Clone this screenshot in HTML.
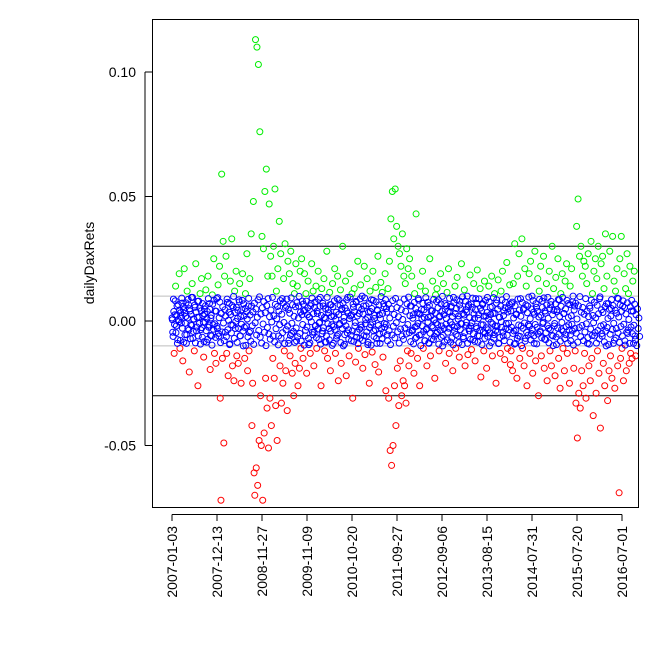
<!DOCTYPE html>
<html><head><meta charset="utf-8"><style>
html,body{margin:0;padding:0;background:#fff}
svg{display:block;font-family:"Liberation Sans",Arial,sans-serif}
</style></head><body>
<svg id="chart" width="672" height="671" viewBox="0 0 672 671" xmlns="http://www.w3.org/2000/svg">
<rect x="0" y="0" width="672" height="671" fill="#fff"/>
<g id="refLines"></g>
<g id="points"></g>
<rect x="152.5" y="19.5" width="486" height="488" fill="none" stroke="#000" stroke-width="1"/>
<g id="yAxis"></g>
<g id="xAxis"></g>
<text x="0" y="0" transform="translate(94,263) rotate(-90)" text-anchor="middle" font-size="14">dailyDaxRets</text>
</svg>
<script>
const retsBp = [
12,-45,88,-130,25,140,-20,60,-75,5,190,-110,33,-8,72,-160,45,210,-55,18,
-90,120,-30,65,-205,40,-15,95,150,-70,8,-120,55,230,-40,15,-260,80,-10,110,
-35,170,-65,22,-145,48,-5,125,-85,38,180,-25,70,-195,12,-60,105,-15,250,-130,
40,-170,90,-30,145,-60,220,-310,-720,590,-150,320,-490,180,-45,260,-130,75,-220,35,
-95,160,-15,330,-180,55,-240,120,-30,200,-140,10,-170,85,150,-60,-250,45,190,-100,
20,-150,110,-20,270,-200,60,-120,170,-40,
350,-420,-250,480,-610,-700,1130,-590,1100,-660,1030,-480,760,-300,-500,340,-720,290,-450,520,-230,610,-350,180,-510,470,
-310,260,-420,180,-150,300,-230,530,-340,120,-480,210,-60,400,-180,270,-330,90,-250,170,
-120,310,-200,60,-360,240,-90,190,-140,280,-50,-210,150,-300,110,-170,230,-80,140,-260,
60,-190,200,-110,250,
80,-150,40,190,-60,110,-210,25,160,-95,15,-130,70,230,-45,120,-180,55,-20,140,
-110,30,200,-75,-5,95,-260,130,-40,60,170,-120,10,-85,280,-150,45,-30,115,-200,
65,-15,150,-90,20,210,-130,35,-60,180,-240,85,-10,125,-170,50,300,-100,15,-55,
160,-220,40,95,-35,-140,190,20,-80,110,-310,55,130,-20,-165,75,-45,240,-110,30,
-70,145,-25,100,-190,60,220,-135,5,-60,170,-95,35,-250,120,-15,85,-125,200,-40,
10,-175,135,-70,45,260,-205,25,-90,155,-30,115,-145,70,-10,190,-280,50,-55,130,
-310,240,-520,410,-580,520,-500,330,-260,530,-420,380,-190,300,-340,270,-160,220,-300,350,-240,180,-260,150,-330,290,-120,210,-180,250,
60,-130,180,-40,25,-210,110,-70,430,-20,-150,90,30,-260,140,-55,10,200,-110,45,
-80,120,-35,-180,75,15,-90,250,-140,40,-20,160,-75,5,-230,105,-50,130,-15,85,
-120,20,190,-65,40,-100,150,-30,70,-170,10,115,-45,210,-130,35,-85,60,-15,-200,
95,-25,140,-110,50,175,-60,20,-145,80,-10,230,-95,30,-70,125,-180,45,-5,100,
-135,65,-40,185,-20,-115,55,-75,150,10,-160,90,-30,205,-85,25,-60,130,-225,40,
70,-15,-120,160,-50,20,-190,95,-35,140,-100,55,-5,180,-140,30,-70,110,-20,-250,
85,-45,165,-90,15,-130,120,-25,200,-60,40,-155,75,-10,235,-110,50,-35,145,-175,
-120,70,-200,150,-40,310,-90,25,-230,180,-60,270,-150,90,-20,330,-110,45,-180,210,
-70,140,-260,60,-15,190,-130,240,-50,100,-210,35,-90,280,-160,55,-25,170,-300,120,
-45,220,-140,80,-10,260,-190,40,-75,150,-240,95,-30,200,-120,65,-180,300,-60,130,
-20,-220,175,-95,45,250,-150,85,-270,110,-35,190,-110,30,-200,160,-55,230,-130,70,
-15,-250,140,-80,210,-40,100,-190,60,-120,
-330,380,-470,490,-290,260,-350,300,-200,180,-260,240,-130,220,-310,150,-90,270,-180,60,
-240,320,-150,110,-380,200,-60,250,-290,170,-120,300,-210,90,-430,230,-50,260,-170,130,
-260,350,-100,180,-320,70,-200,280,-140,50,-230,340,-90,160,-270,120,-30,210,-180,90,
-690,250,-150,340,-110,60,-240,190,-80,130,-200,270,-50,110,-170,220,-130,40,-150,160,
-90,200,-60,-140
];
const calmRetsBp = [
5,-62,38,-14,81,-47,23,-90,66,-3,44,-78,17,92,-29,58,-85,31,-9,73,
-55,12,87,-36,49,-71,26,-18,95,-42,7,64,-88,35,-24,79,-60,15,52,-93,
41,-27,70,-5,-83,28,61,-39,10,-74,90,-16,47,-58,22,-97,68,-33,84,-11,
-66,39,-21,94,-50,13,76,-87,30,-44,57,-8,-79,45,20,-63,88,-35,3,71,
-92,26,-48,62,-17,99,-70,34,-2,55,-86,43,-30,77,-59,18,-13,83,-41,69,
-25,50,-98,37,8,-64,91,-46,24,-81,60,-19,36,-94,72,-7,48,-56,15,85,
-38,97,-65,28,-89,53,-12,78,-45,33,-99,62,-26,90,-52,17,-73,44,-4,95,
-60,21,-84,67,-31,9,58,-96,40,-15,82,-69,27,-47,73,-6,-91,54,-35,88,
-20,46,-77,31,-58,93,-9,65,-42,19,-86,57,-28,74,-63,12,99,-50,36,-81,
25,-14,68,-97,43,-37,80,-24,53,-70,16,-88,61,-3,92,-55,29,-45,76,-18,
-67,40,-32,87,-8,59,-93,22,-51,71,-27,14,-84,48,-60,95,-11,33,-76,66,
-41,18,-98,57,-22,81,-36,7,-69,90,-54,26,-15,63,-87,45,-30,72,-2,-94,
52,-19,85,-48,31,-73,10,96,-57,24,-40,68,-82,37,-6,79,-65,20,-91,55,
-33,89,-16,47,-78,28,-59,93,-11,61,-44,15,-86,70,-27,38,-97,50,-4,83,
-62,23,-35,77,-90,42,-18,64,-53,9,98,-71,30,-46,58,-25,86,-13,35,-80,
67,-39,12,-95,49,-56,82,-21,26,-68,91,-7,54,-43,17,-89,73,-32,45,-60,
6,-74,88,-28,39,-52,69,-14,96,-47,21,-83,60,-36,11,-92,75,-24,50,-65,
33,-10,84,-57,27,-99,46,-19,71,-42,14,-79,94,-31,56,-5,-88,63,-49,20,
-72,41,-26,87,-61,32,-8,78,-45,53,-93,16,-37,69,-20,99,-58,25,-84,47,
-13,62,-76,38,-29,91,-4,55,-68,18,-96,73,-41,30,-54,85,-22,7,-87,64,
-35,49,-11,97,-63,24,-47,80,-18,36,-90,57,-30,13,-74,68,-6,92,-51,28,
-82,45,-23,71,-59,10,89,-38,52,-15,-95,66,-43,19,-70,83,-27,34,-62,8,
77,-48,26,-86,58,-12,94,-55,31,-39,72,-20,47,-91,15,-66,60,-3,85,-44,
22,-79,53,-31,98,-57,36,-9,67,-85,40,-25,76,-50,12,-93,61,-37,28,-70,
88,-16,44,-62,19,-99,74,-29,51,-8,-81,65,-45,33,-57,96,-21,9,-76,48,
-34,82,-60,27,-14,70,-92,39,-52,16,87,-40,23,-68,55,-5,93,-73,31,-47,
64,-19,11,-88,50,-35,79,-57,25,-99,42,-10,69,-64,37,-28,86,-53,18,-81,
59,-6,95,-42,30,-71,48,-23,83,-90,14,-37,66,-55,21,-13,77,-96,44,-30,
72,-49,8,-85,61,-26,98,-63,35,-18,54,-79,27,-44,90,-11,40,-67,17,-93,
51,-32,84,-58,22,-7,75,-46,13,-89,63,-38,29,-72,97,-20,45,-61,34,-15,
-84,58,-41,70,-26,10,-95,47,-53,20,86,-34,62,-9,-77,43,-68,31,92,-48,
16,-86,65,-22,39,-60,81,-13,54,-97,28,-45,73,-36,6,-90,57,-24,83,-51,
40,-17,68,-75,25,-99,49,-30,12,-62
];
const dayStride = 4;
const calmDayOffset = 2;
const yTicks = [-0.05, 0.00, 0.05, 0.10];
const yTickLabels = ["-0.05","0.00","0.05","0.10"];
const xTickDays = [1,251,501,751,1001,1251,1501,1751,2001,2251,2501];
const xTickLabels = ["2007-01-03","2007-12-13","2008-11-27","2009-11-09","2010-10-20","2011-09-27","2012-09-06","2013-08-15","2014-07-31","2015-07-20","2016-07-01"];
const blackLines = [0.03,-0.03];
const greyLines = [0.01,-0.01];

const NS="http://www.w3.org/2000/svg";
function X(day){return 172 + (day-1)*0.18;}
function Y(v){return 321 - v*2490;}
function mk(tag,attrs,parent){const e=document.createElementNS(NS,tag);for(const k in attrs)e.setAttribute(k,attrs[k]);parent.appendChild(e);return e;}

const ref=document.getElementById('refLines');
greyLines.forEach(v=>{const l=mk('line',{x1:152.5,x2:638.5,y1:Y(v),y2:Y(v),stroke:'#bebebe','stroke-width':1},ref);

});
blackLines.forEach(v=>{const l=mk('line',{x1:152.5,x2:638.5,y1:Y(v),y2:Y(v),stroke:'#000','stroke-width':1},ref);

});

const pts=document.getElementById('points');
function colorFor(v){return v>0.01?'#00ee00':(v<-0.01?'#ff0000':'#0000ff');}
function drawPoint(v,day){
const c=mk('circle',{cx:X(day).toFixed(2),cy:Y(v).toFixed(2),r:3,fill:'none',stroke:colorFor(v),'stroke-width':1},pts);

}
retsBp.forEach((bp,i)=>drawPoint(bp/10000,1+i*dayStride));
calmRetsBp.forEach((bp,i)=>drawPoint(bp/10000,1+calmDayOffset+i*dayStride));

const ya=document.getElementById('yAxis');
mk('line',{x1:145,x2:145,y1:Y(yTicks[0]),y2:Y(yTicks[yTicks.length-1]),stroke:'#000'},ya);
yTicks.forEach((v,i)=>{mk('line',{x1:145,x2:152,y1:Y(v),y2:Y(v),stroke:'#000'},ya);
const t=mk('text',{x:136,y:Y(v)+5,'text-anchor':'end','font-size':14},ya);t.textContent=yTickLabels[i];

});

const xa=document.getElementById('xAxis');
mk('line',{x1:X(xTickDays[0]),x2:X(xTickDays[xTickDays.length-1]),y1:514.5,y2:514.5,stroke:'#000'},xa);
xTickDays.forEach((d,i)=>{const x=X(d);mk('line',{x1:x,x2:x,y1:514.5,y2:521,stroke:'#000'},xa);
const t=mk('text',{x:0,y:0,transform:`translate(${x+5},526) rotate(-90)`,'text-anchor':'end','font-size':14},xa);t.textContent=xTickLabels[i];

});
</script>
</body></html>
